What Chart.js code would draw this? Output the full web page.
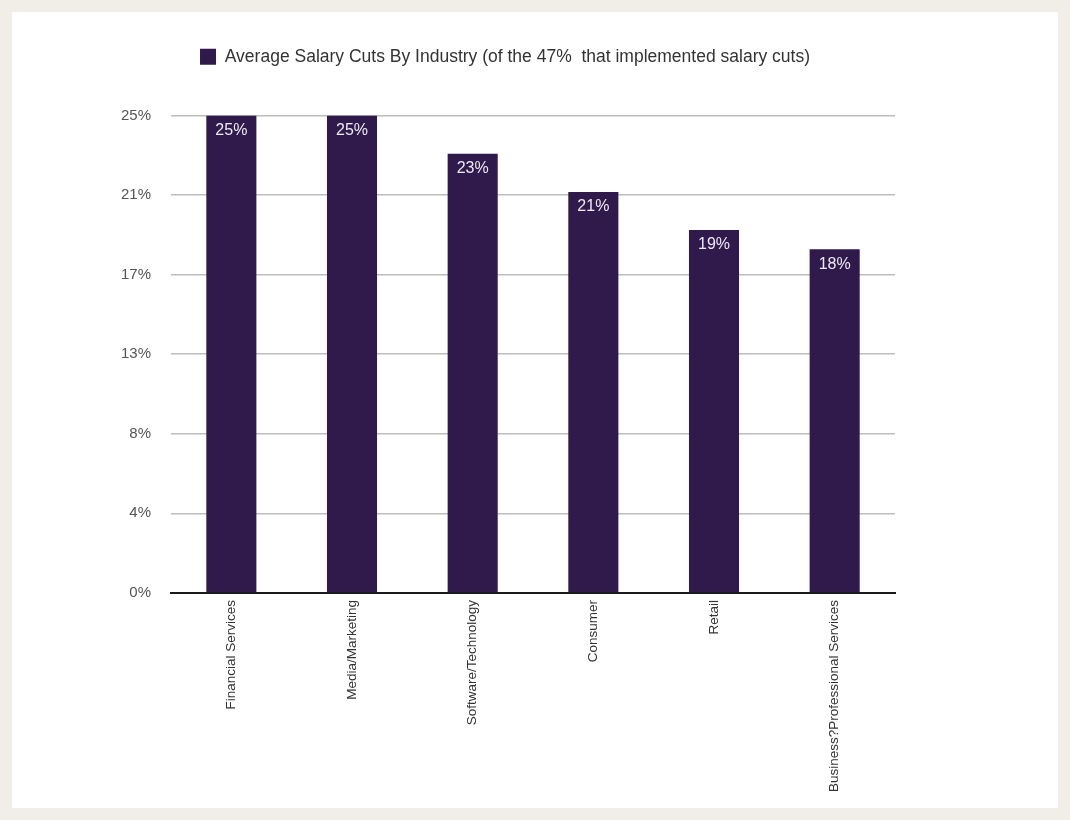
<!DOCTYPE html>
<html>
<head>
<meta charset="utf-8">
<script src="https://cdn.jsdelivr.net/npm/chart.js@4"></script>
<style>
  html, body { margin: 0; padding: 0; background: #f1eee7; }
  #panel { position: absolute; left: 12px; top: 12px; width: 1046px; height: 796px; background: #fff; }
  canvas { display: block; }
</style>
</head>
<body>
<div id="panel"><canvas id="myChart" width="1046" height="796"></canvas></div>
<script>
var industries = ['Financial Services', 'Media/Marketing', 'Software/Technology', 'Consumer', 'Retail', 'Business?Professional Services'];
var salaryCuts = [25, 25, 23, 21, 19, 18];
var yTickValues = [0, 4.17, 8.33, 12.5, 16.67, 20.83, 25];
var yTickLabels = ['0%', '4%', '8%', '13%', '17%', '21%', '25%'];
var seriesName = 'Average Salary Cuts By Industry (of the 47%  that implemented salary cuts)';

// push the plot down below the legend
var legendGap = {
  id: 'legendGap',
  beforeInit: function(chart) {
    var fit = chart.legend.fit;
    chart.legend.fit = function() {
      fit.bind(chart.legend)();
      this.height += 40;
    };
  }
};

// value labels inside top of each bar
var barLabels = {
  id: 'barLabels',
  afterDatasetsDraw: function(chart) {
    var ctx = chart.ctx;
    var meta = chart.getDatasetMeta(0);
    ctx.save();
    ctx.fillStyle = '#efe8f5';
    ctx.font = '16px "Liberation Sans", Arial, sans-serif';
    ctx.textAlign = 'center';
    ctx.textBaseline = 'middle';
    meta.data.forEach(function(bar, i) {
      ctx.fillText(salaryCuts[i] + '%', bar.x, bar.y + 15);
    });
    ctx.restore();
  }
};

var ctx = document.getElementById('myChart').getContext('2d');
var myChart = new Chart(ctx, {
  type: 'bar',
  data: {
    labels: industries,
    datasets: [{
      label: seriesName,
      data: salaryCuts,
      backgroundColor: '#301a4b',
      barPercentage: 0.415,
      categoryPercentage: 1.0
    }]
  },
  options: {
    responsive: false,
    animation: false,
    layout: { padding: { left: 103, right: 163, top: 26, bottom: 9 } },
    plugins: {
      legend: {
        labels: {
          boxWidth: 16,
          boxHeight: 16,
          color: '#333',
          font: { family: '"Liberation Sans", Arial, sans-serif', size: 17.5 }
        }
      },
      tooltip: { enabled: false }
    },
    scales: {
      x: {
        grid: { display: false, drawTicks: false },
        border: { display: true, color: '#1a1a1a', width: 2 },
        ticks: {
          minRotation: 90,
          maxRotation: 90,
          padding: 7,
          color: '#333',
          font: { family: '"Liberation Sans", Arial, sans-serif', size: 13.5 }
        }
      },
      y: {
        min: 0,
        max: 25,
        afterBuildTicks: function(scale) {
          scale.ticks = yTickValues.map(function(v) { return { value: v }; });
        },
        afterFit: function(scale) {
          scale.width -= 14;
        },
        grid: {
          drawTicks: false,
          color: '#bdbdbd',
          lineWidth: 1.5
        },
        border: { display: false },
        ticks: {
          padding: 20,
          color: '#555',
          font: { family: '"Liberation Sans", Arial, sans-serif', size: 15 },
          callback: function(value, index) { return yTickLabels[index]; }
        }
      }
    }
  },
  plugins: [legendGap, barLabels]
});
</script>
</body>
</html>
